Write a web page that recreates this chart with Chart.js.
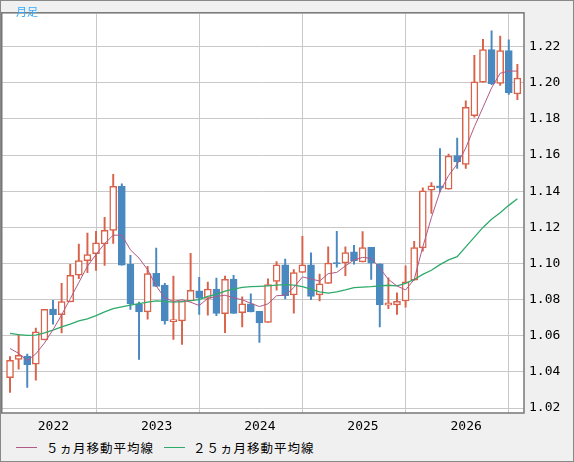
<!DOCTYPE html>
<html><head><meta charset="utf-8">
<script src="https://cdn.jsdelivr.net/npm/chart.js@4.4.1/dist/chart.umd.min.js"></script>
<style>
html,body{margin:0;padding:0;background:#f0f0f0;}
#wrap{position:relative;width:572px;height:460px;border:1px solid #888;background:#f0f0f0;overflow:hidden;}
#c{position:absolute;left:0;top:0;}
.lbl{position:absolute;font-family:"Noto Sans CJK JP";font-size:12.5px;color:#000;white-space:nowrap;}
.ln{position:absolute;height:1px;width:21px;}
#ttl{position:absolute;left:15px;top:2px;font-family:"Noto Sans CJK JP";font-size:11px;color:#33aaff;}
</style></head><body>
<div id="wrap">
<canvas id="c" width="572" height="436"></canvas>
<div id="ttl">月足</div>
<div class="ln" style="left:15px;top:446px;background:#b05a85"></div>
<div class="lbl" style="left:45px;top:437px;letter-spacing:1px">５ヵ月移動平均線</div>
<div class="ln" style="left:163px;top:446px;background:#2eaa6a"></div>
<div class="lbl" style="left:192px;top:437px;letter-spacing:1px">２５ヵ月移動平均線</div>
</div>
<script>
const yearLabels=["2022","2023","2024","2025","2026"];
const yearIdx=[4,16,28,40,52];
const yTicks=[1.02,1.04,1.06,1.08,1.10,1.12,1.14,1.16,1.18,1.20,1.22];
const opens=[1.0368,1.0470,1.0488,1.0443,1.0577,1.0748,1.0717,1.0787,1.0935,1.1016,1.1054,1.1108,1.1184,1.1427,1.0996,1.0775,
1.0732,1.0946,1.0879,1.0678,1.0683,1.0793,1.0849,1.0807,1.0859,1.0722,1.0914,1.0728,1.0777,1.0735,1.0674,
1.0901,1.0993,1.0826,1.0951,1.0993,1.0826,1.0890,1.1005,1.1004,1.1065,1.1009,1.1090,1.0998,1.0769,1.0771,1.0793,1.0908,
1.1087,1.1406,1.1430,1.1412,1.1597,1.1548,1.1818,1.2003,1.2184,1.1997,1.2178,1.1938];
const closes=[1.0465,1.0492,1.0441,1.0622,1.0746,1.0717,1.0789,1.0935,1.1016,1.1049,1.1114,1.1184,1.1427,1.0991,1.0777,1.0733,
1.0944,1.0874,1.0683,1.0690,1.0793,1.0852,1.0809,1.0859,1.0724,1.0912,1.0724,1.0777,1.0732,1.0672,1.0883,
1.0993,1.0822,1.0950,1.0993,1.0818,1.0888,1.1002,1.0998,1.1061,1.1014,1.1088,1.1002,1.0771,1.0782,1.0791,1.0899,1.1088,
1.1403,1.1430,1.1419,1.1595,1.1563,1.1864,1.2006,1.2184,1.1995,1.2178,1.1945,1.2026];
const highs=[1.0485,1.0607,1.0499,1.0643,1.0746,1.0796,1.0890,1.0996,1.1108,1.1169,1.1178,1.1256,1.1494,1.1441,1.1045,1.0787,
1.0984,1.1086,1.0890,1.0930,1.0793,1.1056,1.0924,1.0897,1.0919,1.0930,1.0935,1.0816,1.0832,1.0735,1.0915,
1.1011,1.1025,1.0966,1.1151,1.1059,1.0942,1.1092,1.1178,1.1092,1.1101,1.1177,1.1090,1.0998,1.0921,1.0838,1.0987,1.1123,
1.1419,1.1448,1.1636,1.1606,1.1694,1.1900,1.2152,1.2241,1.2288,1.2259,1.2238,1.2103];
const lows=[1.0287,1.0415,1.0314,1.0355,1.0577,1.0665,1.0616,1.0787,1.0917,1.0950,1.0962,1.0989,1.1112,1.0991,1.0746,1.0469,
1.0692,1.0874,1.0665,1.0580,1.0553,1.0793,1.0719,1.0715,1.0712,1.0618,1.0724,1.0650,1.0732,1.0564,1.0674,
1.0852,1.0804,1.0726,1.0951,1.0800,1.0793,1.0890,1.0980,1.0933,1.0996,1.1009,1.0912,1.0650,1.0751,1.0719,1.0759,1.0908,
1.1069,1.1277,1.1396,1.1412,1.1527,1.1527,1.1810,1.2003,1.1990,1.1985,1.1936,1.1907];
const ma5=[1.0530,1.0503,1.0463,1.0500,1.0560,1.0634,1.0716,1.0805,1.0895,1.0985,1.1050,1.1110,1.1157,1.1157,1.1076,1.1030,
1.0966,1.0876,1.0810,1.0790,1.0800,1.0786,1.0768,1.0807,1.0818,1.0825,1.0810,1.0800,1.0780,1.0762,1.0777,
1.0822,1.0825,1.0867,1.0926,1.0915,1.0903,1.0944,1.0951,1.0987,1.1020,1.1034,1.1029,1.0975,1.0912,1.0876,1.0854,1.0912,
1.1092,1.1254,1.1398,1.1487,1.1550,1.1640,1.1757,1.1864,1.1972,1.2053,1.2065,1.2065];
const ma25=[1.0614,1.0607,1.0602,1.0604,1.0616,1.0631,1.0649,1.0665,1.0683,1.0694,1.0712,1.0733,1.0751,1.0760,1.0770,1.0778,
1.0786,1.0793,1.0791,1.0787,1.0789,1.0795,1.0800,1.0818,1.0830,1.0847,1.0858,1.0868,1.0872,1.0874,1.0876,
1.0881,1.0883,1.0881,1.0872,1.0858,1.0843,1.0836,1.0843,1.0854,1.0867,1.0870,1.0872,1.0876,1.0880,1.0876,1.0890,1.0912,
1.0940,1.0963,1.0994,1.1020,1.1038,1.1092,1.1146,1.1200,1.1245,1.1281,1.1322,1.1358];

const RED='#d9634a', BLUE='#4a88c0';
const up=opens.map((o,i)=>closes[i]>=o);
const body=opens.map((o,i)=>({x:i,y:[o,closes[i]]}));
const wick=opens.map((o,i)=>({x:i,y:[lows[i],highs[i]]}));
const bg={id:'bg',beforeDraw(ch){const a=ch.chartArea,c=ch.ctx;c.save();c.fillStyle='#fff';c.fillRect(a.left,a.top,a.right-a.left,a.bottom-a.top);c.restore();},
afterDraw(ch){const a=ch.chartArea,c=ch.ctx;c.save();c.strokeStyle='#777';c.lineWidth=1.5;c.strokeRect(a.left+0.75,a.top-1,a.right-a.left-0.75,a.bottom-a.top+1);c.restore();}};
new Chart(document.getElementById('c'),{
type:'bar',
data:{datasets:[
{type:'line',data:ma5.map((v,i)=>({x:i,y:v})),borderColor:'#b05a85',borderWidth:1,pointRadius:0,order:0},
{type:'line',data:ma25.map((v,i)=>({x:i,y:v})),borderColor:'#2eaa6a',borderWidth:1.3,pointRadius:0,order:0},
{data:body,backgroundColor:up.map(u=>u?'#fff':BLUE),borderColor:up.map(u=>u?RED:BLUE),borderWidth:1.5,borderSkipped:false,barThickness:7,grouped:false,order:1},
{data:wick,backgroundColor:up.map(u=>u?RED:BLUE),borderWidth:0,barThickness:1.3,grouped:false,order:2}
]},
options:{responsive:false,animation:false,events:[],layout:{padding:0},
plugins:{legend:{display:false},tooltip:{enabled:false}},
scales:{
x:{type:'linear',min:-1.05,max:59.77,offset:false,
 afterBuildTicks:a=>{a.ticks=yearIdx.map(v=>({value:v}));},
 afterFit:a=>{a.height=24;},
 grid:{color:'#c8c8c8',drawTicks:false},border:{display:false},
 ticks:{autoSkip:false,maxRotation:0,padding:6,labelOffset:9,color:'#000',font:{family:'DejaVu Sans Mono',size:13},
 callback:(v)=>{const k=yearIdx.indexOf(v);return k>=0?yearLabels[k]:'';}}},
y:{position:'right',min:1.0173,max:1.2382,
 afterBuildTicks:a=>{a.ticks=yTicks.map(v=>({value:v}));},
 afterFit:a=>{a.width=49;},
 grid:{color:'#c8c8c8',drawTicks:false},border:{display:false},
 ticks:{padding:5,color:'#000',font:{family:'DejaVu Sans Mono',size:13},callback:v=>v.toFixed(2)}}
}},
plugins:[bg]});
</script></body></html>
